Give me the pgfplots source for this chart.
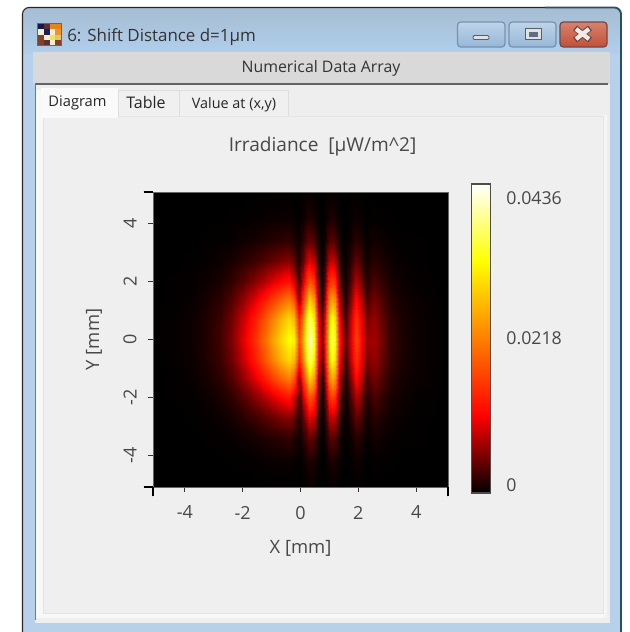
\documentclass[border=0pt]{standalone}
\usepackage{fontspec}
\setmainfont{Open Sans}
\usepackage{pgfplots}
\usepackage{pgfplotstable}
\pgfplotsset{compat=1.18}
\definecolor{txt}{RGB}{72,72,72}
\definecolor{frameb}{RGB}{184,209,234}
\definecolor{edgec}{RGB}{40,80,95}
\definecolor{g100}{RGB}{100,100,100}
\definecolor{g120}{RGB}{120,120,120}
\definecolor{g217}{RGB}{217,217,217}
\definecolor{g222}{RGB}{222,222,222}
\definecolor{g228}{RGB}{228,228,228}
\definecolor{g238}{RGB}{238,238,238}
\definecolor{g239}{RGB}{239,239,239}
\definecolor{g240}{RGB}{240,240,240}
\definecolor{g245}{RGB}{245,245,245}
\definecolor{g248}{RGB}{248,248,248}
\definecolor{g250}{RGB}{250,250,250}
\definecolor{titlet}{RGB}{166,189,209}
\definecolor{titleb}{RGB}{176,206,236}
\definecolor{btnd}{RGB}{120,145,175}
\definecolor{btnt}{RGB}{190,212,232}
\definecolor{btnb}{RGB}{150,183,215}
\definecolor{redd}{RGB}{120,70,70}
\definecolor{redt}{RGB}{215,130,110}
\definecolor{redb}{RGB}{195,80,55}
\definecolor{glyphl}{RGB}{225,225,225}
\definecolor{glyphd}{RGB}{85,95,110}
\definecolor{glyphm}{RGB}{95,110,130}
\definecolor{xdark}{RGB}{110,70,65}
\definecolor{xlight}{RGB}{240,235,230}
\definecolor{icoa}{RGB}{25,25,70}
\definecolor{icob}{RGB}{90,50,50}
\definecolor{icoc}{RGB}{228,132,25}
\definecolor{icod}{RGB}{247,238,208}
\definecolor{icoe}{RGB}{30,30,90}
\definecolor{icof}{RGB}{235,150,40}
\definecolor{icog}{RGB}{130,65,40}
\definecolor{icoh}{RGB}{245,225,90}
\definecolor{icoi}{RGB}{225,195,120}
\pgfplotstableread{
x y m z
-5.1 0 0 0
-5.1 0.7 -0.7 0
-5.1 1.35 -1.35 0
-5.1 2 -2 0
-5.1 2.7 -2.7 0
-5.1 3.4 -3.4 0
-5.1 4.2 -4.2 0
-5.1 5.1 -5.1 0

-4.4 0 0 .0002
-4.4 0.7 -0.7 .0002
-4.4 1.35 -1.35 .0001
-4.4 2 -2 .0001
-4.4 2.7 -2.7 0
-4.4 3.4 -3.4 0
-4.4 4.2 -4.2 0
-4.4 5.1 -5.1 0

-3.8 0 0 .0005
-3.8 0.7 -0.7 .0005
-3.8 1.35 -1.35 .0003
-3.8 2 -2 .0002
-3.8 2.7 -2.7 .0001
-3.8 3.4 -3.4 0
-3.8 4.2 -4.2 0
-3.8 5.1 -5.1 0

-3.3 0 0 .0013
-3.3 0.7 -0.7 .0012
-3.3 1.35 -1.35 .0009
-3.3 2 -2 .0005
-3.3 2.7 -2.7 .0002
-3.3 3.4 -3.4 .0001
-3.3 4.2 -4.2 0
-3.3 5.1 -5.1 0

-2.8 0 0 .0028
-2.8 0.7 -0.7 .0025
-2.8 1.35 -1.35 .0018
-2.8 2 -2 .0011
-2.8 2.7 -2.7 .0005
-2.8 3.4 -3.4 .0002
-2.8 4.2 -4.2 0
-2.8 5.1 -5.1 0

-2.4 0 0 .0052
-2.4 0.7 -0.7 .0047
-2.4 1.35 -1.35 .0034
-2.4 2 -2 .0020
-2.4 2.7 -2.7 .0009
-2.4 3.4 -3.4 .0003
-2.4 4.2 -4.2 .0001
-2.4 5.1 -5.1 0

-2.0 0 0 .0096
-2.0 0.7 -0.7 .0085
-2.0 1.35 -1.35 .0062
-2.0 2 -2 .0037
-2.0 2.7 -2.7 .0017
-2.0 3.4 -3.4 .0006
-2.0 4.2 -4.2 .0001
-2.0 5.1 -5.1 0

-1.6 0 0 .0144
-1.6 0.7 -0.7 .0128
-1.6 1.35 -1.35 .0094
-1.6 2 -2 .0056
-1.6 2.7 -2.7 .0025
-1.6 3.4 -3.4 .0009
-1.6 4.2 -4.2 .0002
-1.6 5.1 -5.1 0

-1.3 0 0 .0192
-1.3 0.7 -0.7 .0171
-1.3 1.35 -1.35 .0125
-1.3 2 -2 .0074
-1.3 2.7 -2.7 .0034
-1.3 3.4 -3.4 .0012
-1.3 4.2 -4.2 .0003
-1.3 5.1 -5.1 0

-1.0 0 0 .0244
-1.0 0.7 -0.7 .0217
-1.0 1.35 -1.35 .0159
-1.0 2 -2 .0094
-1.0 2.7 -2.7 .0043
-1.0 3.4 -3.4 .0016
-1.0 4.2 -4.2 .0004
-1.0 5.1 -5.1 0

-.74 0 0 .0283
-.74 0.7 -0.7 .0252
-.74 1.35 -1.35 .0184
-.74 2 -2 .0109
-.74 2.7 -2.7 .0050
-.74 3.4 -3.4 .0018
-.74 4.2 -4.2 .0004
-.74 5.1 -5.1 .0001

-.4 0 0 .0331
-.4 0.7 -0.7 .0295
-.4 1.35 -1.35 .0215
-.4 2 -2 .0128
-.4 2.7 -2.7 .0058
-.4 3.4 -3.4 .0021
-.4 4.2 -4.2 .0005
-.4 5.1 -5.1 .0001

-.22 0 0 .0314
-.22 0.7 -0.7 .0262
-.22 1.35 -1.35 .0174
-.22 2 -2 .0087
-.22 2.7 -2.7 .0039
-.22 3.4 -3.4 .0013
-.22 4.2 -4.2 .0003
-.22 5.1 -5.1 0

-.05 0 0 .0166
-.05 0.7 -0.7 .0131
-.05 1.35 -1.35 .0052
-.05 2 -2 .0026
-.05 2.7 -2.7 .0013
-.05 3.4 -3.4 .0005
-.05 4.2 -4.2 .0001
-.05 5.1 -5.1 0

.09 0 0 .0260
.09 0.7 -0.7 .0228
.09 1.35 -1.35 .0155
.09 2 -2 .0090
.09 2.7 -2.7 .0043
.09 3.4 -3.4 .0019
.09 4.2 -4.2 .0005
.09 5.1 -5.1 .0001

.29 0 0 .0415
.29 0.7 -0.7 .0380
.29 1.35 -1.35 .0290
.29 2 -2 .0188
.29 2.7 -2.7 .0099
.29 3.4 -3.4 .0043
.29 4.2 -4.2 .0014
.29 5.1 -5.1 .0003

.46 0 0 .0340
.46 0.7 -0.7 .0305
.46 1.35 -1.35 .0235
.46 2 -2 .0150
.46 2.7 -2.7 .0080
.46 3.4 -3.4 .0034
.46 4.2 -4.2 .0010
.46 5.1 -5.1 .0002

.60 0 0 .0131
.60 0.7 -0.7 .0111
.60 1.35 -1.35 .0072
.60 2 -2 .0043
.60 2.7 -2.7 .0022
.60 3.4 -3.4 .0009
.60 4.2 -4.2 .0003
.60 5.1 -5.1 0

.73 0 0 .0052
.73 0.7 -0.7 .0035
.73 1.35 -1.35 .0013
.73 2 -2 .0005
.73 2.7 -2.7 .0002
.73 3.4 -3.4 .0001
.73 4.2 -4.2 0
.73 5.1 -5.1 0

.84 0 0 .0131
.84 0.7 -0.7 .0111
.84 1.35 -1.35 .0072
.84 2 -2 .0043
.84 2.7 -2.7 .0022
.84 3.4 -3.4 .0009
.84 4.2 -4.2 .0003
.84 5.1 -5.1 0

.98 0 0 .0325
.98 0.7 -0.7 .0295
.98 1.35 -1.35 .0225
.98 2 -2 .0145
.98 2.7 -2.7 .0077
.98 3.4 -3.4 .0033
.98 4.2 -4.2 .0010
.98 5.1 -5.1 .0002

1.08 0 0 .0365
1.08 0.7 -0.7 .0332
1.08 1.35 -1.35 .0252
1.08 2 -2 .0162
1.08 2.7 -2.7 .0086
1.08 3.4 -3.4 .0038
1.08 4.2 -4.2 .0012
1.08 5.1 -5.1 .0002

1.19 0 0 .0325
1.19 0.7 -0.7 .0295
1.19 1.35 -1.35 .0225
1.19 2 -2 .0145
1.19 2.7 -2.7 .0077
1.19 3.4 -3.4 .0033
1.19 4.2 -4.2 .0010
1.19 5.1 -5.1 .0002

1.32 0 0 .0131
1.32 0.7 -0.7 .0111
1.32 1.35 -1.35 .0072
1.32 2 -2 .0043
1.32 2.7 -2.7 .0022
1.32 3.4 -3.4 .0009
1.32 4.2 -4.2 .0003
1.32 5.1 -5.1 0

1.53 0 0 .0039
1.53 0.7 -0.7 .0022
1.53 1.35 -1.35 .0009
1.53 2 -2 .0003
1.53 2.7 -2.7 .0001
1.53 3.4 -3.4 0
1.53 4.2 -4.2 0
1.53 5.1 -5.1 0

1.70 0 0 .0087
1.70 0.7 -0.7 .0077
1.70 1.35 -1.35 .0052
1.70 2 -2 .0031
1.70 2.7 -2.7 .0016
1.70 3.4 -3.4 .0006
1.70 4.2 -4.2 .0002
1.70 5.1 -5.1 0

1.91 0 0 .0166
1.91 0.7 -0.7 .0151
1.91 1.35 -1.35 .0116
1.91 2 -2 .0076
1.91 2.7 -2.7 .0041
1.91 3.4 -3.4 .0018
1.91 4.2 -4.2 .0006
1.91 5.1 -5.1 .0001

2.08 0 0 .0113
2.08 0.7 -0.7 .0103
2.08 1.35 -1.35 .0079
2.08 2 -2 .0052
2.08 2.7 -2.7 .0028
2.08 3.4 -3.4 .0012
2.08 4.2 -4.2 .0004
2.08 5.1 -5.1 .0001

2.25 0 0 .0065
2.25 0.7 -0.7 .0052
2.25 1.35 -1.35 .0031
2.25 2 -2 .0015
2.25 2.7 -2.7 .0007
2.25 3.4 -3.4 .0002
2.25 4.2 -4.2 0
2.25 5.1 -5.1 0

2.55 0 0 .0070
2.55 0.7 -0.7 .0064
2.55 1.35 -1.35 .0049
2.55 2 -2 .0032
2.55 2.7 -2.7 .0017
2.55 3.4 -3.4 .0008
2.55 4.2 -4.2 .0002
2.55 5.1 -5.1 0

2.87 0 0 .0044
2.87 0.7 -0.7 .0040
2.87 1.35 -1.35 .0031
2.87 2 -2 .0020
2.87 2.7 -2.7 .0011
2.87 3.4 -3.4 .0005
2.87 4.2 -4.2 .0001
2.87 5.1 -5.1 0

3.11 0 0 .0024
3.11 0.7 -0.7 .0022
3.11 1.35 -1.35 .0017
3.11 2 -2 .0011
3.11 2.7 -2.7 .0006
3.11 3.4 -3.4 .0003
3.11 4.2 -4.2 .0001
3.11 5.1 -5.1 0

3.56 0 0 .0011
3.56 0.7 -0.7 .0010
3.56 1.35 -1.35 .0008
3.56 2 -2 .0005
3.56 2.7 -2.7 .0003
3.56 3.4 -3.4 .0001
3.56 4.2 -4.2 0
3.56 5.1 -5.1 0

4.07 0 0 .0005
4.07 0.7 -0.7 .0005
4.07 1.35 -1.35 .0004
4.07 2 -2 .0002
4.07 2.7 -2.7 .0001
4.07 3.4 -3.4 .0001
4.07 4.2 -4.2 0
4.07 5.1 -5.1 0

5.1 0 0 0
5.1 0.7 -0.7 0
5.1 1.35 -1.35 0
5.1 2 -2 0
5.1 2.7 -2.7 0
5.1 3.4 -3.4 0
5.1 4.2 -4.2 0
5.1 5.1 -5.1 0
}\irr
\begin{document}
\begin{tikzpicture}[x=.75pt,y=-.75pt,line cap=butt]
\path[use as bounding box] (0,0) rectangle (629,632);
\begin{scope}
\clip (0,0) rectangle (629,632);
\fill[white] (0,0) rectangle (629,632);
% window frame
\fill[fill=frameb,rounded corners=5pt] (22.5,650) -- (22.5,7.5) -- (621.5,7.5) -- (621.5,650) -- cycle;
\begin{scope}
\clip[rounded corners=5pt] (22.5,650) -- (22.5,7.5) -- (621.5,7.5) -- (621.5,650) -- cycle;
\shade[top color=titlet,bottom color=titleb] (22,7) rectangle (622,53);
\end{scope}
\draw[black!85,line width=.8pt,rounded corners=5pt] (22.5,650) -- (22.5,7.5) -- (545,7.5);
\draw[draw=edgec,line width=1.4pt,rounded corners=5pt] (545,7.5) -- (621,7.5) -- (621,650);
% gray band
\fill[fill=g217] (33,52) rectangle (610,84);
% inner
\fill[fill=g238] (35,84) rectangle (610,623);
\draw[draw=g100,line width=1pt] (35,84) -- (608,84);
\draw[draw=g120,line width=1pt] (35.5,84) -- (35.5,620);
\fill[fill=g248] (36,85) rectangle (43,616);
\fill[fill=g248] (36,613) rectangle (605,618);
\fill[fill=g245] (603,115) rectangle (607,618);
\fill[fill=g238] (36,85) rectangle (605,90);
\fill[fill=g239] (43,116) rectangle (603,613);
\draw[draw=g228,line width=.6pt] (43,116) rectangle (603,613);
% tabs
\fill[fill=g240] (118,90) rectangle (288,116);
\draw[draw=g222,line width=.6pt] (118,116) -- (118,90) -- (288,90) -- (288,116) (179,90) -- (179,116);
\fill[fill=g250] (41,88) rectangle (118,118);
% icon
\foreach \c/\r/\C in {0/0/icoa,1/0/icob,2/0/icoc,3/0/icoc,0/1/icod,1/1/icoe,2/1/icod,3/1/icof,0/2/icog,1/2/icod,2/2/icoh,3/2/icoi,0/3/icog,1/3/icob,2/3/icod,3/3/icog}
  \fill[fill=\C] ({38+\c*5.75},{24+\r*5.25}) rectangle ({38+\c*5.75+5.75},{24+\r*5.25+5.25});
\draw[black!60,line width=.5pt] (37.5,23.5) rectangle (61.5,45.5);
% buttons
\shade[draw=btnd,rounded corners=2.5pt,line width=.9pt,top color=btnt,bottom color=btnb] (457.5,22) rectangle (505,47);
\shade[draw=btnd,rounded corners=2.5pt,line width=.9pt,top color=btnt,bottom color=btnb] (509,22) rectangle (556,47);
\shade[draw=redd,rounded corners=2.5pt,line width=.9pt,top color=redt,bottom color=redb] (560,22) rectangle (607,47);
\draw[draw=glyphd,rounded corners=1pt,fill=glyphl,line width=.7pt] (473,35.5) rectangle (489,39.5);
\draw[draw=glyphd,fill=glyphl,line width=.7pt] (525,28.5) rectangle (541,39.5);
\fill[fill=glyphm] (528.5,32) rectangle (537.5,36.5);
\draw[draw=xdark,line width=4.6pt] (575,28) -- (590,40) (590,28) -- (575,40);
\draw[draw=xlight,line width=3.2pt] (576,29) -- (589,39) (589,29) -- (576,39);
% texts
\node[anchor=base west,inner sep=0,font=\fontsize{12.7pt}{14pt}\selectfont,text=black!80] at (67,41) {6: Shift Distance d=1µm};
\node[anchor=base,inner sep=0,font=\fontsize{11.9pt}{14pt}\selectfont,text=black!80] at (321,72) {Numerical Data Array};
\node[anchor=base,inner sep=0,font=\fontsize{11pt}{13pt}\selectfont,text=black!85] at (77.5,106) {Diagram};
\node[anchor=base,inner sep=0,font=\fontsize{12pt}{14pt}\selectfont,text=black!85] at (146,108) {Table};
\node[anchor=base,inner sep=0,font=\fontsize{10.8pt}{13pt}\selectfont,text=black!85] at (234,108) {Value at (x,y)};
\end{scope}
\coordinate (A) at (153,487);
\begin{axis}[
  at={(A)},anchor=south west,
  scale only axis,width=221.25pt,height=221.25pt,
  view={0}{90},
  xmin=-5.1,xmax=5.1,ymin=-5.1,ymax=5.1,
  xtick={-4,-2,0,2,4},ytick={-4,-2,0,2,4},
  extra x ticks={-5.1,5.1},extra y ticks={-5.1,5.1},
  extra x tick labels={},extra y tick labels={},
  extra tick style={major tick length=7pt,tick style={black,line width=1.4pt}},
  tick pos=left,tick align=outside,major tick length=3.75pt,
  tick style={black!80,line width=.7pt},
  axis line style={black!60,line width=.7pt},
  axis on top,
  /pgf/number format/assume math mode=true,
  ticklabel style={font=\fontsize{13.5pt}{15pt}\selectfont,text=txt},
  xticklabel style={yshift=-7pt},
  yticklabel style={rotate=90,anchor=south,yshift=5pt},
  xlabel={X [mm]},ylabel={Y [mm]},
  label style={font=\fontsize{13.8pt}{15pt}\selectfont,text=txt},
  xlabel style={at={(axis description cs:0.5,-0.207)},anchor=center},
  ylabel style={at={(axis description cs:-0.2,0.5)},anchor=center},
  title={Irradiance\ \ [µW/m\textasciicircum 2]},
  every axis title shift=0pt,
  title style={at={(axis description cs:0.575,1.153)},anchor=center,font=\fontsize{14.3pt}{16pt}\selectfont,text=txt},
  colormap={irrad}{rgb255(0cm)=(0,0,0); rgb255(1cm)=(255,0,0); rgb255(3cm)=(255,255,0); rgb255(4cm)=(255,255,255)},
  point meta min=0,point meta max=0.0436,
  colorbar,
  colorbar style={
    at={(parent axis.north east)},anchor=north west,xshift=9pt,yshift=6pt,
    width=14.25pt,height=231.75pt,
    ytick={0.0011,0.0218,0.0416},yticklabels={0,0.0218,0.0436},
    scaled y ticks=false,
    major tick length=0pt,tick style={draw=none},
    axis line style={black!70,line width=.8pt},
    /pgf/number format/assume math mode=true,
    yticklabel style={font=\fontsize{13.3pt}{15pt}\selectfont,text=txt,xshift=8.5pt},
  },
]
\addplot3[surf,shader=interp,mesh/rows=8,mesh/cols=35,mesh/ordering=y varies] table[x=x,y=y,z=z] {\irr};
\addplot3[surf,shader=interp,mesh/rows=8,mesh/cols=35,mesh/ordering=y varies] table[x=x,y=m,z=z] {\irr};
\end{axis}
\end{tikzpicture}
\end{document}
